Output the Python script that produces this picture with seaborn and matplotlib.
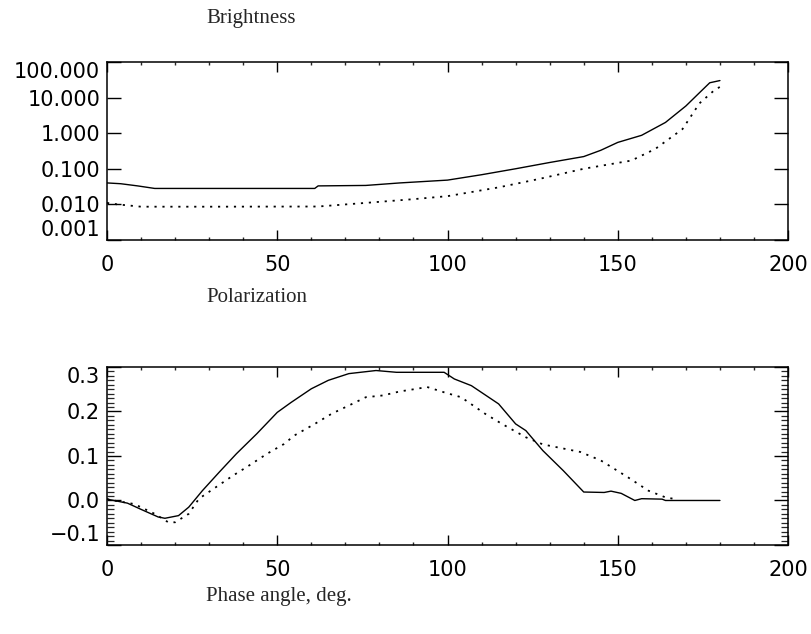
import matplotlib
matplotlib.use("Agg")
import matplotlib.pyplot as plt
from matplotlib.ticker import LogLocator, FixedLocator, MultipleLocator, FormatStrFormatter, FuncFormatter, NullFormatter
import numpy as np
import pandas as pd
import seaborn as sns

# Brightness (log scale), two models
phase_b1 = [0, 4, 9, 14, 30, 45, 61, 62, 76, 86, 100, 110, 120, 130, 140, 145, 150, 157, 164, 170, 174, 177, 180]
bright_1 = [0.040, 0.038, 0.033, 0.028, 0.028, 0.028, 0.028, 0.033, 0.034, 0.040, 0.048, 0.068, 0.10, 0.15,
            0.22, 0.33, 0.55, 0.87, 2.0, 5.8, 13.7, 26, 30]
phase_b2 = [0, 3, 10, 30, 62, 76, 90, 100, 115, 127, 140, 154, 161, 169, 174, 178, 180]
bright_2 = [0.011, 0.010, 0.0086, 0.0086, 0.0087, 0.011, 0.014, 0.017, 0.030, 0.052, 0.10, 0.17, 0.36, 1.3,
            6.9, 15, 20]

# Polarization
phase_p1 = [0, 2, 6, 10, 15, 17, 21, 24, 28, 33, 38, 44, 50, 54, 60, 65, 71, 79, 85, 99, 102, 107, 115, 120,
            123, 128, 134, 140, 146, 148, 151, 155, 157, 163, 164, 180]
pol_1 = [0.003, 0.0, -0.006, -0.02, -0.037, -0.04, -0.034, -0.015, 0.022, 0.064, 0.105, 0.15, 0.198, 0.22,
         0.251, 0.27, 0.285, 0.292, 0.288, 0.288, 0.273, 0.258, 0.217, 0.172, 0.157, 0.112, 0.067, 0.019,
         0.018, 0.021, 0.016, 0.0, 0.004, 0.003, 0.0, 0.0]
phase_p2 = [0, 2, 8, 14, 18, 20, 24, 27, 32, 37, 41, 47, 52, 55, 61, 66, 72, 76, 81, 86, 91, 94, 99, 104, 111,
            116, 123, 128, 139, 145, 153, 159, 164, 167]
pol_2 = [0.003, 0.0, -0.008, -0.03, -0.049, -0.049, -0.03, 0.004, 0.03, 0.056, 0.075, 0.105, 0.127, 0.146,
         0.172, 0.195, 0.217, 0.232, 0.236, 0.245, 0.251, 0.255, 0.243, 0.232, 0.195, 0.172, 0.142, 0.126,
         0.109, 0.09, 0.052, 0.022, 0.007, 0.003]

x_ticks = [0, 50, 100, 150, 200]
bright_ticks = [0.001, 0.01, 0.1, 1, 10, 100]
pol_ticks = [-0.1, 0.0, 0.1, 0.2, 0.3]

sns.set_style("ticks")
plt.rcParams['font.family'] = ['DejaVu Sans']

TICK_FS = 15
SOLID = dict(color="black", linewidth=1.0)
DOTTED = dict(color="black", linewidth=1.3, linestyle=(0, (1.2, 3.2)))


def style_axes(ax):
    for s in ax.spines.values():
        s.set_linewidth(1.1)
        s.set_color("black")
    ax.set_xlim(0, 200)
    ax.xaxis.set_major_locator(FixedLocator(x_ticks))
    ax.xaxis.set_minor_locator(MultipleLocator(10))
    ax.tick_params(axis="x", which="major", direction="in", top=True, bottom=True, length=7, width=1,
                   pad=11, labelsize=TICK_FS, colors="black")
    ax.tick_params(axis="x", which="minor", direction="in", top=True, bottom=True, length=2, width=1)
    ax.tick_params(axis="y", which="major", direction="in", left=True, right=True, length=10, width=1,
                   pad=5, labelsize=TICK_FS, colors="black")
    ax.tick_params(axis="y", which="minor", direction="in", left=True, right=True, length=5, width=0.9)
    ax.set_xlabel("")
    ax.set_ylabel("")
    # IDL style: edge labels pulled inside the frame
    labels = ax.get_yticklabels()
    labels[0].set_va("bottom")
    labels[-1].set_va("top")


fig = plt.figure(figsize=(8.12, 6.34), dpi=100)
ax1 = fig.add_axes([0.1318, 0.6215, 0.8387, 0.2808])
ax2 = fig.add_axes([0.1318, 0.1404, 0.8387, 0.2808])

df_b1 = pd.DataFrame({"phase": phase_b1, "value": bright_1})
df_b2 = pd.DataFrame({"phase": phase_b2, "value": bright_2})
sns.lineplot(data=df_b1, x="phase", y="value", ax=ax1, **SOLID)
sns.lineplot(data=df_b2, x="phase", y="value", ax=ax1, **DOTTED)
ax1.set_yscale("log")
ax1.set_ylim(0.001, 100)
ax1.yaxis.set_major_locator(FixedLocator(bright_ticks))
ax1.yaxis.set_minor_locator(LogLocator(base=10, subs=np.arange(2, 10)))
ax1.yaxis.set_major_formatter(FormatStrFormatter("%.3f"))
ax1.yaxis.set_minor_formatter(NullFormatter())
fig.canvas.draw()
style_axes(ax1)

df_p1 = pd.DataFrame({"phase": phase_p1, "value": pol_1})
df_p2 = pd.DataFrame({"phase": phase_p2, "value": pol_2})
sns.lineplot(data=df_p1, x="phase", y="value", ax=ax2, **SOLID)
sns.lineplot(data=df_p2, x="phase", y="value", ax=ax2, **DOTTED)
ax2.set_ylim(-0.1, 0.3)
ax2.yaxis.set_major_locator(FixedLocator(pol_ticks))
ax2.yaxis.set_minor_locator(MultipleLocator(0.01))
ax2.yaxis.set_major_formatter(FuncFormatter(lambda v, p: f"{v:.1f}".replace("-", "\u2212")
                                            if abs(v) > 1e-9 else "0.0"))
fig.canvas.draw()
style_axes(ax2)

serif = ["Liberation Serif", "DejaVu Serif"]
fig.text(206 / 812, 1 - 18 / 634, "Brightness", family=serif, fontsize=15, va="center", ha="left")
fig.text(206 / 812, 1 - 297 / 634, "Polarization", family=serif, fontsize=15, va="center", ha="left")
fig.text(206 / 812, 1 - 597 / 634, "Phase angle, deg.", family=serif, fontsize=15, va="center", ha="left")

fig.savefig("out.png", dpi=100, facecolor="white")
